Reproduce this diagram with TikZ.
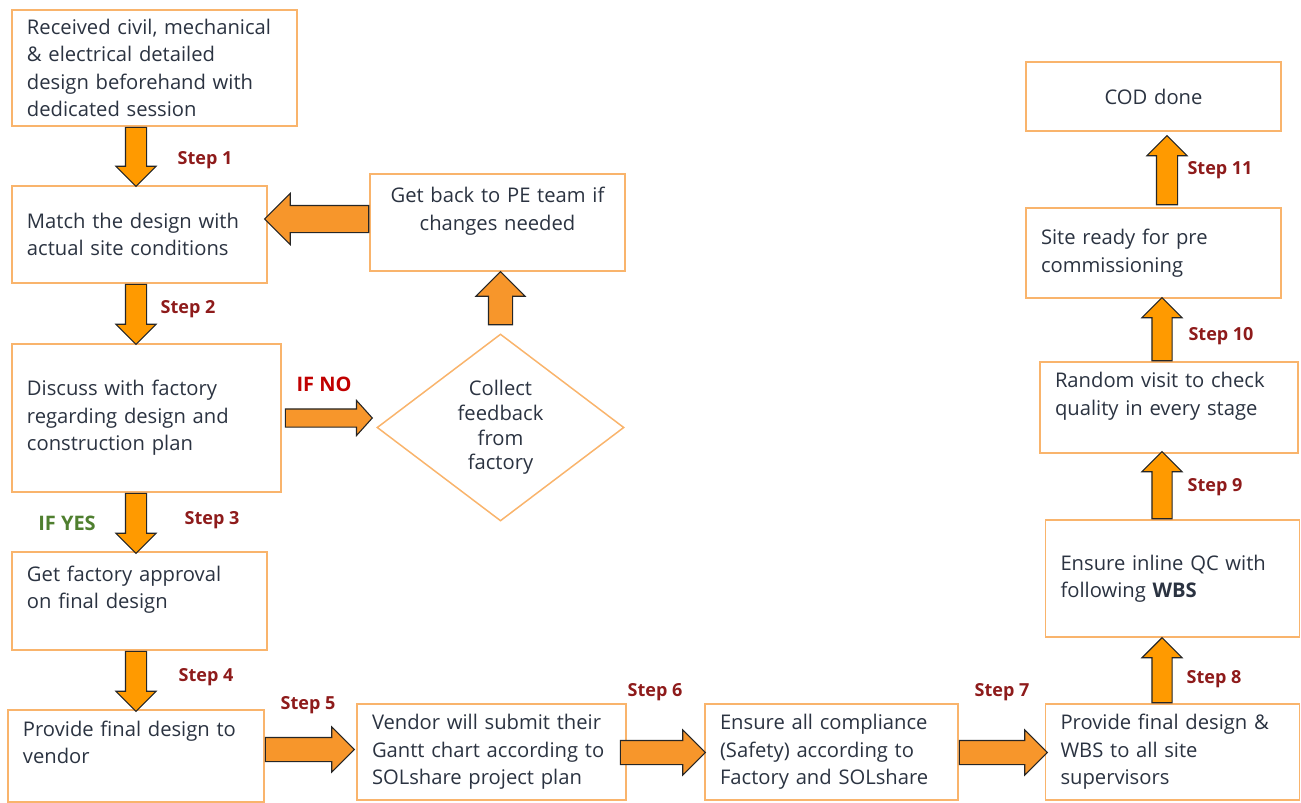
\documentclass[tikz,border=0pt]{standalone}
\usepackage{fontspec}
\setmainfont{Open Sans}
\usetikzlibrary{shapes.geometric,shapes.arrows,calc}
\definecolor{boxor}{HTML}{F9B46C}
\definecolor{arrV}{HTML}{FF9A00}
\definecolor{arrH}{HTML}{F7962B}
\definecolor{txt}{HTML}{2B3341}
\definecolor{stepred}{HTML}{8E1B1B}
\definecolor{noRed}{HTML}{C00000}
\definecolor{yesGreen}{HTML}{4F7F2F}
\newcommand\mainfs{\fontsize{20.2}{27.5}\selectfont}
\newcommand\diafs{\fontsize{20.2}{24.6}\selectfont}
\newcommand\stepfs{\fontsize{18}{20}\selectfont\bfseries}
\newcommand\iffs{\fontsize{20}{22}\selectfont\bfseries}
\begin{document}
\begin{tikzpicture}[x=1pt,y=-1pt,
  box/.style={draw=boxor, line width=1.5pt, fill=white, inner xsep=15pt, inner ysep=0pt,
    align=left, font=\mainfs, text=txt},
  cbox/.style={box, align=center},
  barr/.style={single arrow, draw=black!85, line width=1.1pt, fill=arrV, inner sep=0pt,
    single arrow head indent=0pt, anchor=tail},
  harr/.style={barr, fill=arrH},
  steplab/.style={font=\stepfs, text=stepred, inner sep=0pt},
]
\useasboundingbox (0,0) rectangle (1301,803);

% column / row guides for the block arrows
\coordinate (cL) at (136,0);
\coordinate (cQ) at (500.5,0);
\coordinate (cR) at (1162,0);
\coordinate (cR2) at (1167,0);
\coordinate (rB) at (0,752.5);

% boxes
\node[box, minimum width=285, minimum height=116, text width=255] (A) at (154.5,68)
  {Received civil, mechanical\\ \& electrical detailed\\ design beforehand with\\ dedicated session};
\node[box, minimum width=255, minimum height=97, text width=225] (B) at (139.5,234.5)
  {Match the design with\\ actual site conditions};
\node[cbox, minimum width=255, minimum height=97, text width=225] (C) at (497.5,222.5)
  {Get back to PE team if\\ changes needed\\ \mbox{}};
\node[box, minimum width=269, minimum height=148, text width=239] (D) at (146.5,418)
  {Discuss with factory\\ regarding design and\\ construction plan};
\node[box, minimum width=255, minimum height=98, text width=225] (E) at (139.5,601)
  {Get factory approval\\ on final design\\ \mbox{}};
\node[box, minimum width=256, minimum height=92, text width=226] (F) at (136,756)
  {Provide final design to\\ vendor\\ \mbox{}};
\node[box, minimum width=269, minimum height=96, text width=239] (G) at (491.5,752)
  {Vendor will submit their\\ Gantt chart according to\\ SOLshare project plan};
\node[box, minimum width=253, minimum height=96, text width=223] (H) at (831.5,752)
  {Ensure all compliance\\ (Safety) according to\\ Factory and SOLshare};
\node[box, minimum width=254, minimum height=96, text width=224] (I) at (1172.5,752)
  {Provide final design \&\\ WBS to all site\\ supervisors};
\node[box, minimum width=254, minimum height=117, text width=224] (J) at (1172.5,578.5)
  {Ensure inline QC with\\ following \textbf{WBS}};
\node[box, minimum width=258, minimum height=91, text width=228] (K) at (1169,407.5)
  {Random visit to check\\ quality in every stage\\ \mbox{}};
\node[box, minimum width=255, minimum height=90, text width=225] (L) at (1153.5,253)
  {Site ready for pre\\ commissioning};
\node[cbox, minimum width=255, minimum height=69, text width=225] (M) at (1153.5,96.5)
  {COD done};

% decision diamond
\node[diamond, draw=boxor, line width=1.5pt, minimum width=247, minimum height=187, inner sep=0pt] (Q) at (500.5,427.5) {};
\node[font=\diafs, text=txt, align=center] (Qt) at (Q.center) {Collect\\ feedback\\ from\\ factory};

% block arrows (placed by their tail on the source node)
\node[barr, rotate=-90, minimum height=59, inner ysep=10, single arrow head extend=9.5] (a1) at (A.south -| cL) {};
\node[barr, rotate=-90, minimum height=60, inner ysep=10, single arrow head extend=9.5] (a2) at (B.south -| cL) {};
\node[barr, rotate=-90, minimum height=60, inner ysep=10, single arrow head extend=9.5] (a3) at (D.south -| cL) {};
\node[barr, rotate=-90, minimum height=60, inner ysep=10, single arrow head extend=9.5] (a4) at (E.south -| cL) {};
\node[harr, minimum height=89, inner ysep=11.5, single arrow head extend=10.5] (a5) at ([yshift=3]F.east |- rB) {};
\node[harr, minimum height=85, inner ysep=11.5, single arrow head extend=10.5] (a6) at ([xshift=-7]G.east |- rB) {};
\node[harr, minimum height=88, inner ysep=11.5, single arrow head extend=10.5] (a7) at (H.east |- rB) {};
\node[barr, rotate=90, minimum height=65, inner ysep=9.5, single arrow head extend=10] (a8) at (I.north -| cR) {};
\node[barr, rotate=90, minimum height=67, inner ysep=9.5, single arrow head extend=10] (a9) at (J.north -| cR) {};
\node[barr, rotate=90, minimum height=63, inner ysep=9.5, single arrow head extend=10] (a10) at (K.north -| cR) {};
\node[barr, rotate=90, minimum height=69, inner ysep=10, single arrow head extend=9.5] (a11) at ([yshift=2]L.north -| cR2) {};
\node[harr, rotate=90, minimum height=53, inner ysep=11.5, single arrow head extend=12.5] (a12) at ([yshift=8]Q.north -| cQ) {};
\node[harr, rotate=180, minimum height=104, inner ysep=13, single arrow head extend=12] (a13) at ([yshift=3.5]C.west) {};
\node[harr, minimum height=87, inner ysep=8.5, single arrow head extend=8.5, single arrow tip angle=96] (a14) at ([xshift=3]D.east) {};

% labels
\node[steplab] (s1) at (205,160) {Step 1};
\node[steplab] (s2) at (188,309) {Step 2};
\node[steplab] (s3) at (212,520) {Step 3};
\node[steplab] (s4) at (206,677) {Step 4};
\node[steplab] (s5) at (308,705) {Step 5};
\node[steplab] (s6) at (655,692) {Step 6};
\node[steplab] (s7) at (1002,692) {Step 7};
\node[steplab] (s8) at (1214,679) {Step 8};
\node[steplab] (s9) at (1215,487) {Step 9};
\node[steplab] (s10) at (1221,336) {Step 10};
\node[steplab] (s11) at (1220,170) {Step 11};
\node[font=\iffs, text=yesGreen, inner sep=0pt] (yes) at (67,523) {IF YES};
\node[font=\iffs, text=noRed, inner sep=0pt] (no) at (324,384) {IF NO};
\end{tikzpicture}
\end{document}
